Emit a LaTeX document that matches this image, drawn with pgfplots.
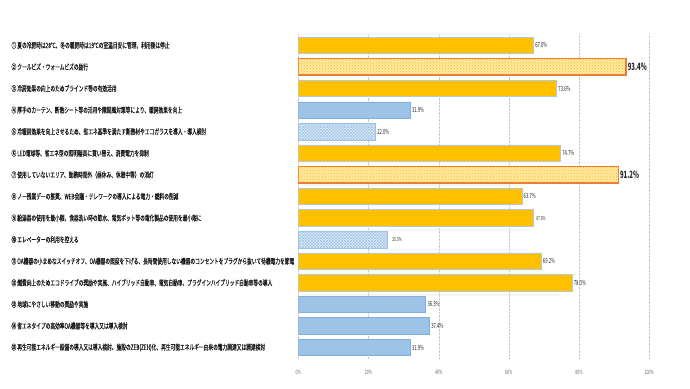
\documentclass[border=0pt]{standalone}
\usepackage{fontspec}
\usepackage{pgfplots}
\pgfplotsset{compat=1.18}
\usetikzlibrary{patterns}
\newfontfamily\jp[FakeStretch=0.63,FakeBold=0.2]{Noto Sans CJK JP}
\newfontfamily\jpnum[FakeStretch=0.6]{Noto Sans CJK JP}
\definecolor{gold}{HTML}{FFC000}
\definecolor{goldedge}{HTML}{B4C7DC}
\definecolor{orng}{HTML}{ED7D31}
\definecolor{lyellow}{HTML}{FFE9A8}
\definecolor{blu}{HTML}{9DC3E6}
\definecolor{bluedge}{HTML}{7FB0DD}
\definecolor{lblue}{HTML}{E6F0FA}
\begin{document}
\begin{tikzpicture}[x=1pt,y=1pt]
\path[use as bounding box] (0,0) rectangle (690,388);
\begin{axis}[
  at={(298.3pt,29.7pt)}, anchor=south west,
  scale only axis, width=351pt, height=323.8pt,
  xbar, bar width=16.5pt,
  xmin=0, xmax=100, ymin=0.5, ymax=15.5, y dir=reverse,
  axis line style={draw=none},
  major tick length=0pt,
  xmajorgrids, grid style={densely dotted, black!22},
  xtick={0,20,40,60,80,100},
  xticklabel={\pgfmathprintnumber{\tick}\%},
  xticklabel style={font=\jpnum\fontsize{6}{7}\selectfont, text=black!60, yshift=-8.5pt},
  /pgf/number format/assume math mode=true,
  ytick={1,...,15},
  yticklabel style={font=\jp\fontsize{7.5}{8}\selectfont, anchor=west, xshift=-290.3pt, text=black!90},
  yticklabels={
    {① 夏の冷房時は28℃、冬の暖房時は19℃の室温目安に管理、利用後は停止},
    {② クールビズ・ウォームビズの励行},
    {③ 冷房効果の向上のためブラインド等の有効活用},
    {④ 厚手のカーテン、断熱シート等の活用や隙間風対策等により、暖房効果を向上},
    {⑤ 冷暖房効果を向上させるため、省エネ基準を満たす断熱材やエコガラスを導入・導入検討},
    {⑥ LED電球等、省エネ型の照明器具に買い替え、消費電力を抑制},
    {⑦ 使用していないエリア、勤務時間外（昼休み、休憩中等）の消灯},
    {⑧ ノー残業デーの推奨、WEB会議・テレワークの導入による電力・燃料の削減},
    {⑨ 給湯器の使用を最小限、食器洗い時の節水、電気ポット等の電化製品の使用を最小限に},
    {⑩ エレベーターの利用を控える},
    {⑪ OA機器の小まめなスイッチオフ、OA機器の照度を下げる、長時間使用しない機器のコンセントをプラグから抜いて待機電力を節電},
    {⑫ 燃費向上のためエコドライブの奨励や実施、ハイブリッド自動車、電気自動車、プラグインハイブリッド自動車等の導入},
    {⑬ 地球にやさしい移動の奨励や実施},
    {⑭ 省エネタイプの高効率OA機器等を導入又は導入検討},
    {⑮ 再生可能エネルギー設備の導入又は導入検討、施設のZEB(ZEH)化、再生可能エネルギー由来の電力調達又は調達検討}
  },
  point meta=x,
  nodes near coords={\pgfmathprintnumber[fixed,fixed zerofill,precision=1]{\pgfplotspointmeta}\%},
  nodes near coords style={anchor=west, inner sep=1.5pt, text=black!85, font=\jpnum\fontsize{7}{8}\selectfont},
]
% gold bars
\addplot[bar shift=0pt, fill=gold, draw=goldedge, line width=0.6pt]
  coordinates {(67.0,1) (73.6,3) (74.7,6) (63.7,8) (69.2,11) (78.0,12)};
\addplot[bar shift=0pt, fill=gold, draw=goldedge, line width=0.6pt,
  nodes near coords style={font=\jpnum\fontsize{5.5}{6}\selectfont, inner sep=2.5pt}]
  coordinates {(67.0,9)};
% highlighted bars
\addplot[bar shift=0pt, fill=lyellow, draw=orng, line width=1.3pt,
  postaction={pattern=crosshatch dots, pattern color=gold},
  nodes near coords style={font=\jpnum\bfseries\fontsize{10}{11}\selectfont, inner sep=1pt}]
  coordinates {(93.4,2) (91.2,7)};
% blue bars
\addplot[bar shift=0pt, fill=blu, draw=bluedge, line width=0.6pt]
  coordinates {(31.9,4) (36.3,13) (37.4,14) (31.9,15)};
% hatched blue bars
\addplot[bar shift=0pt, fill=lblue, draw=blu, line width=0.6pt,
  postaction={pattern=crosshatch, pattern color=blu}]
  coordinates {(22.0,5)};
\addplot[bar shift=0pt, fill=lblue, draw=blu, line width=0.6pt,
  postaction={pattern=crosshatch, pattern color=blu},
  nodes near coords style={font=\jpnum\fontsize{5.5}{6}\selectfont, inner sep=5pt}]
  coordinates {(25.3,10)};
\end{axis}
\end{tikzpicture}
\end{document}
